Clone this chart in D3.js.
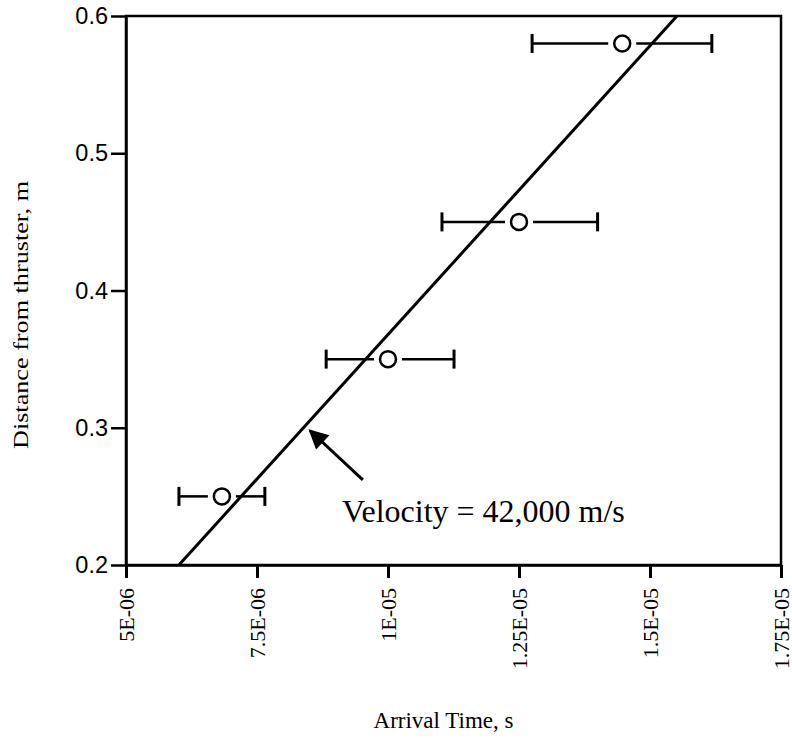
<!DOCTYPE html>
<html>
<head>
<meta charset="utf-8">
<script src="https://cdn.jsdelivr.net/npm/d3@7"></script>
<style>
  html, body { margin: 0; padding: 0; background: #fff; }
  svg { display: block; }
</style>
</head>
<body>
<div id="chart"></div>
<script>
// ---- data ----
const arrivalTime   = [6.83e-6, 1.0e-5, 1.25e-5, 1.447e-5];
const distance      = [0.25, 0.35, 0.45, 0.58];
const timeErrLow    = [6.01e-6, 8.82e-6, 1.103e-5, 1.275e-5];
const timeErrHigh   = [7.65e-6, 1.126e-5, 1.40e-5, 1.618e-5];
const fitTime       = [6.01e-6, 1.5515e-5];
const fitDistance   = [0.2, 0.6];
const xTicks        = [5e-6, 7.5e-6, 1e-5, 1.25e-5, 1.5e-5, 1.75e-5];
const xTickLabels   = ["5E-06", "7.5E-06", "1E-05", "1.25E-05", "1.5E-05", "1.75E-05"];
const yTicks        = [0.2, 0.3, 0.4, 0.5, 0.6];
const yTickLabels   = ["0.2", "0.3", "0.4", "0.5", "0.6"];
const arrowTail     = [9.52e-6, 0.262];
const arrowTip      = [8.51e-6, 0.298];
const annotationPos = [9.12e-6, 0.231];
const annotationText = "Velocity = 42,000 m/s";
const xTitle = "Arrival Time, s";
const yTitle = "Distance from thruster, m";

// ---- layout ----
const W = 792, H = 738;
const mLeft = 126, mRight = 781, mTop = 16, mBottom = 565;

const svg = d3.select("#chart").append("svg").attr("width", W).attr("height", H);

const x = d3.scaleLinear().domain([5e-6, 1.75e-5]).range([mLeft, mRight]);
const y = d3.scaleLinear().domain([0.2, 0.6]).range([mBottom, mTop]);

const serif = "'Liberation Serif', 'Times New Roman', serif";
const sans = "'Liberation Sans', Arial, sans-serif";

// frame
svg.append("rect").attr("x", mLeft).attr("y", mTop)
  .attr("width", mRight - mLeft).attr("height", mBottom - mTop)
  .attr("fill", "none").attr("stroke", "#000").attr("stroke-width", 2.5);

// x axis
const xAxis = d3.axisBottom(x).tickValues(xTicks)
  .tickFormat((d, i) => xTickLabels[i]).tickSize(13).tickSizeOuter(0);
const gx = svg.append("g").attr("transform", `translate(0,${mBottom})`).call(xAxis);
gx.select(".domain").attr("stroke-width", 2.5);
gx.selectAll(".tick line").attr("stroke-width", 3);
gx.selectAll(".tick text")
  .attr("font-family", serif).attr("font-size", 22).attr("fill", "#000")
  .attr("transform", "rotate(-90)")
  .attr("x", -23).attr("y", 0).attr("dy", "0.35em")
  .attr("text-anchor", "end");

// y axis
const yAxis = d3.axisLeft(y).tickValues(yTicks)
  .tickFormat((d, i) => yTickLabels[i]).tickSize(15).tickSizeOuter(0).tickPadding(3);
const gy = svg.append("g").attr("transform", `translate(${mLeft},0)`).call(yAxis);
gy.select(".domain").attr("stroke-width", 2.5);
gy.selectAll(".tick line").attr("stroke-width", 2.5);
gy.selectAll(".tick text")
  .attr("font-family", sans).attr("font-size", 23.5).attr("fill", "#000");

// error bars
const r = 8, gap = 6, cap = 9.5;
const eb = svg.append("g").attr("stroke", "#000").attr("stroke-width", 2.5).attr("fill", "none");
arrivalTime.forEach((t, i) => {
  const cx = x(t), cy = y(distance[i]);
  const lo = x(timeErrLow[i]), hi = x(timeErrHigh[i]);
  eb.append("line").attr("x1", lo).attr("x2", cx - r - gap).attr("y1", cy).attr("y2", cy);
  eb.append("line").attr("x1", cx + r + gap).attr("x2", hi).attr("y1", cy).attr("y2", cy);
  eb.append("line").attr("x1", lo).attr("x2", lo).attr("y1", cy - cap).attr("y2", cy + cap).attr("stroke-width", 3);
  eb.append("line").attr("x1", hi).attr("x2", hi).attr("y1", cy - cap).attr("y2", cy + cap).attr("stroke-width", 3);
});

// fit line
svg.append("path")
  .datum(fitTime.map((t, i) => [t, fitDistance[i]]))
  .attr("d", d3.line().x(d => x(d[0])).y(d => y(d[1])))
  .attr("fill", "none").attr("stroke", "#000").attr("stroke-width", 3);

// markers
svg.append("g").selectAll("circle")
  .data(arrivalTime.map((t, i) => [t, distance[i]]))
  .join("circle")
  .attr("cx", d => x(d[0])).attr("cy", d => y(d[1])).attr("r", r)
  .attr("fill", "#fff").attr("stroke", "#000").attr("stroke-width", 2.5);

// arrow
const defs = svg.append("defs");
defs.append("marker").attr("id", "ah")
  .attr("viewBox", "0 0 10 10").attr("refX", 9).attr("refY", 5)
  .attr("markerWidth", 7).attr("markerHeight", 6.5).attr("markerUnits", "strokeWidth")
  .attr("orient", "auto")
  .append("path").attr("d", "M0,0 L10,5 L0,10 Z").attr("fill", "#000");
svg.append("line")
  .attr("x1", x(arrowTail[0])).attr("y1", y(arrowTail[1]))
  .attr("x2", x(arrowTip[0])).attr("y2", y(arrowTip[1]))
  .attr("stroke", "#000").attr("stroke-width", 3)
  .attr("marker-end", "url(#ah)");

// annotation
svg.append("text")
  .attr("x", x(annotationPos[0])).attr("y", y(annotationPos[1]))
  .attr("font-family", serif).attr("font-size", 32).attr("fill", "#000")
  .text(annotationText);

// axis titles
svg.append("text")
  .attr("x", (mLeft + mRight) / 2 - 10).attr("y", 728)
  .attr("text-anchor", "middle")
  .attr("font-family", serif).attr("font-size", 23).attr("fill", "#000")
  .text(xTitle);

svg.append("text")
  .attr("transform", `translate(28,315) rotate(-90)`)
  .attr("text-anchor", "middle")
  .attr("font-family", serif).attr("font-size", 22).attr("fill", "#000")
  .attr("textLength", 268).attr("lengthAdjust", "spacingAndGlyphs")
  .text(yTitle);
</script>
</body>
</html>
